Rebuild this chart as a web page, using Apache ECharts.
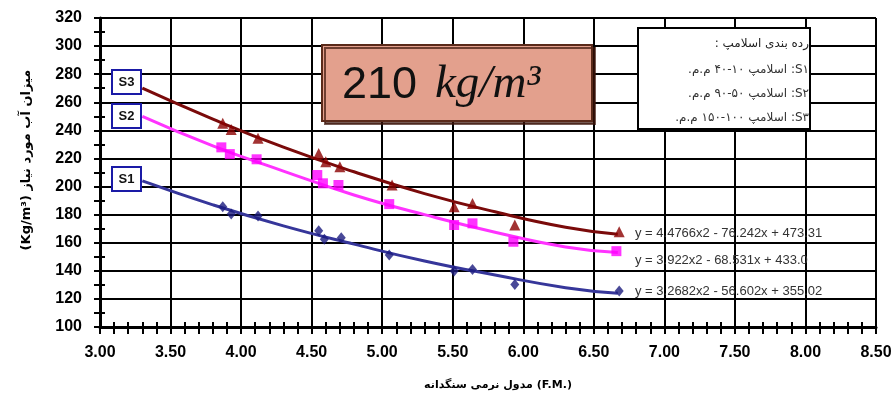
<!DOCTYPE html>
<html>
<head>
<meta charset="utf-8">
<script src="https://cdn.jsdelivr.net/npm/echarts@6/dist/echarts.min.js"></script>
<style>
html,body{margin:0;padding:0;background:#fff;}
#chart{width:895px;height:396px;}
</style>
</head>
<body>
<div id="chart"></div>
<script>
// ---- data ----
const xTicks = [3.0, 3.5, 4.0, 4.5, 5.0, 5.5, 6.0, 6.5, 7.0, 7.5, 8.0, 8.5];
const yTicks = [100, 120, 140, 160, 180, 200, 220, 240, 260, 280, 300, 320];

const s1FM    = [3.87, 3.93, 4.12, 4.55, 4.59, 4.71, 5.05, 5.51, 5.64, 5.94, 6.68];
const s1Water = [185.6, 180.4, 179.0, 168.5, 162.4, 163.5, 151.2, 139.8, 141.0, 130.3, 125.6];
const s2FM    = [3.86, 3.92, 4.11, 4.54, 4.58, 4.69, 5.05, 5.51, 5.64, 5.93, 6.66];
const s2Water = [227.9, 223.1, 219.4, 208.2, 202.3, 201.1, 187.5, 172.6, 173.8, 160.7, 154.0];
const s3FM    = [3.87, 3.93, 4.12, 4.55, 4.60, 4.70, 5.07, 5.51, 5.64, 5.94, 6.68];
const s3Water = [245.0, 240.7, 234.3, 223.6, 217.6, 214.1, 201.1, 185.6, 188.0, 172.6, 167.8];

// trend curves
const trendFM = [3.3, 3.8, 4.3, 4.8, 5.3, 5.8, 6.3, 6.67];
const s1Trend = [204, 187, 172, 159, 147, 137, 128, 124];
const s2Trend = [250, 229, 211, 194, 180, 167.5, 157, 153];
const s3Trend = [270, 248, 228, 210.5, 195, 182, 171, 166];

const equations = [
  'y = 4.4766x2 - 76.242x + 473.31',
  'y = 3.922x2 - 68.531x + 433.0',
  'y = 3.2682x2 - 56.602x + 355.02'
];
const seriesTags = ['S3', 'S2', 'S1'];
const legendTitle = 'رده بندی اسلامپ :';
const legendItems = [
  'S۱: اسلامپ ۱۰\u200F-\u200F۴۰ م.م.',
  'S۲: اسلامپ ۵۰\u200F-\u200F۹۰ م.م.',
  'S۳: اسلامپ ۱۰۰\u200F-\u200F۱۵۰ م.م.'
];
const boxValue = '210 ';
const boxUnit = 'kg/m³';
const xTitle = 'مدول نرمی سنگدانه (F.M.)';
const yTitle = '(Kg/m³) میزان آب مورد نیاز';

const pairs = (xs, ys) => xs.map((x, i) => [x, ys[i]]);
const RLE = '\u202B', PDF = '\u202C';

const chart = echarts.init(document.getElementById('chart'), null, {renderer: 'canvas'});

const baseX = {type: 'value', min: 3, max: 8.5, interval: 0.5};
const baseY = {type: 'value', min: 100, max: 320, interval: 20};

const option = {
  backgroundColor: '#fff',
  animation: false,
  grid: {left: 100, right: 19, top: 18, bottom: 69, containLabel: false},
  xAxis: [
    Object.assign({}, baseX, {
      position: 'bottom',
      axisLine: {show: true, lineStyle: {color: '#000', width: 3}},
      axisTick: {show: true, length: 7, lineStyle: {color: '#000', width: 2}},
      minorTick: {show: true, splitNumber: 5, length: 7, lineStyle: {color: '#000', width: 2}},
      splitLine: {show: true, lineStyle: {color: '#000', width: 2}},
      axisLabel: {
        show: true, margin: 18, color: '#000', fontSize: 16, fontWeight: 'bold',
        fontFamily: 'Liberation Sans, Arial, sans-serif',
        formatter: v => v.toFixed(2)
      }
    }),
    Object.assign({}, baseX, {
      position: 'bottom',
      axisLine: {show: false},
      axisTick: {show: true, inside: true, length: 5, lineStyle: {color: '#000', width: 2}},
      minorTick: {show: true, splitNumber: 5, length: 5, lineStyle: {color: '#000', width: 2}},
      splitLine: {show: false},
      axisLabel: {show: false}
    })
  ],
  yAxis: [
    Object.assign({}, baseY, {
      position: 'left',
      axisLine: {show: true, lineStyle: {color: '#000', width: 3}},
      axisTick: {show: true, length: 6, lineStyle: {color: '#000', width: 2}},
      minorTick: {show: true, splitNumber: 2, length: 6, lineStyle: {color: '#000', width: 2}},
      splitLine: {show: true, lineStyle: {color: '#000', width: 2}},
      axisLabel: {
        show: true, margin: 18, color: '#000', fontSize: 16, fontWeight: 'bold',
        fontFamily: 'Liberation Sans, Arial, sans-serif'
      }
    }),
    Object.assign({}, baseY, {
      position: 'left',
      axisLine: {show: false},
      axisTick: {show: true, inside: true, length: 5, lineStyle: {color: '#000', width: 2}},
      minorTick: {show: true, splitNumber: 2, length: 5, lineStyle: {color: '#000', width: 2}},
      splitLine: {show: false},
      axisLabel: {show: false}
    })
  ],
  series: [
    {type: 'line', data: pairs(trendFM, s1Trend), smooth: true, showSymbol: false, symbol: 'none',
     lineStyle: {color: '#36369A', width: 3}, z: 3},
    {type: 'line', data: pairs(trendFM, s2Trend), smooth: true, showSymbol: false, symbol: 'none',
     lineStyle: {color: '#FF33FF', width: 3}, z: 3},
    {type: 'line', data: pairs(trendFM, s3Trend), smooth: true, showSymbol: false, symbol: 'none',
     lineStyle: {color: '#7A0A0A', width: 3}, z: 3},
    {type: 'scatter', data: pairs(s1FM, s1Water), symbol: 'diamond', symbolSize: [9, 11],
     itemStyle: {color: '#1C1C7E'}, z: 4},
    {type: 'scatter', data: pairs(s2FM, s2Water), symbol: 'rect', symbolSize: 10,
     itemStyle: {color: '#FF00FF'}, z: 4},
    {type: 'scatter', data: pairs(s3FM, s3Water), symbol: 'triangle', symbolSize: 11,
     itemStyle: {color: '#8B0000'}, z: 4}
  ],
  graphic: [
    // axis titles
    {type: 'text', x: 498, y: 385, z: 10,
     style: {text: xTitle, align: 'center', verticalAlign: 'middle', fill: '#000',
             font: 'bold 11px "DejaVu Sans", "Liberation Sans", sans-serif'}},
    {type: 'text', x: 27, y: 160, rotation: Math.PI / 2, z: 10,
     style: {text: yTitle, align: 'center', verticalAlign: 'middle', fill: '#000',
             font: 'bold 13px "DejaVu Sans", "Liberation Sans", sans-serif'}},
    // title box
    {type: 'rect', shape: {x: 322, y: 45, width: 270, height: 76}, z: 20,
     style: {fill: '#E3A08D', stroke: '#5A2A1A', lineWidth: 2,
             shadowColor: 'rgba(60,20,10,0.7)', shadowOffsetX: 3, shadowOffsetY: 3, shadowBlur: 0}},
    {type: 'text', x: 342, y: 86, z: 21,
     style: {text: boxValue, align: 'left', verticalAlign: 'middle', fill: '#111',
             font: '45px "Liberation Sans", Arial, sans-serif'}},
    {type: 'text', x: 435, y: 85, z: 21,
     style: {text: boxUnit, align: 'left', verticalAlign: 'middle', fill: '#111',
             font: 'italic 47px "Liberation Serif", "Times New Roman", serif'}},
    // legend box
    {type: 'rect', shape: {x: 638, y: 28, width: 172, height: 101}, z: 20,
     style: {fill: '#fff', stroke: '#000', lineWidth: 2}},
    {type: 'text', x: 809, y: 44, z: 21,
     style: {text: RLE + legendTitle + PDF, align: 'right', verticalAlign: 'middle', fill: '#222',
             font: '12px "DejaVu Sans", sans-serif'}},
    {type: 'text', x: 809, y: 70, z: 21,
     style: {text: RLE + legendItems[0] + PDF, align: 'right', verticalAlign: 'middle', fill: '#333',
             font: '12px "DejaVu Sans", sans-serif'}},
    {type: 'text', x: 809, y: 94, z: 21,
     style: {text: RLE + legendItems[1] + PDF, align: 'right', verticalAlign: 'middle', fill: '#333',
             font: '12px "DejaVu Sans", sans-serif'}},
    {type: 'text', x: 809, y: 118, z: 21,
     style: {text: RLE + legendItems[2] + PDF, align: 'right', verticalAlign: 'middle', fill: '#333',
             font: '12px "DejaVu Sans", sans-serif'}},
    // equations
    {type: 'text', x: 635, y: 233, z: 2,
     style: {text: equations[0], align: 'left', verticalAlign: 'middle', fill: '#333',
             font: '13px "Liberation Sans", Arial, sans-serif'}},
    {type: 'text', x: 635, y: 260, z: 2,
     style: {text: equations[1], align: 'left', verticalAlign: 'middle', fill: '#333',
             font: '13px "Liberation Sans", Arial, sans-serif'}},
    {type: 'text', x: 635, y: 291, z: 2,
     style: {text: equations[2], align: 'left', verticalAlign: 'middle', fill: '#333',
             font: '13px "Liberation Sans", Arial, sans-serif'}},
    // series tags
    {type: 'rect', shape: {x: 112, y: 70, width: 29, height: 24}, z: 20,
     style: {fill: '#fff', stroke: '#1A1AA6', lineWidth: 2}},
    {type: 'text', x: 126.5, y: 82, z: 21,
     style: {text: seriesTags[0], align: 'center', verticalAlign: 'middle', fill: '#111',
             font: 'bold 13px "Liberation Sans", Arial, sans-serif'}},
    {type: 'rect', shape: {x: 112, y: 104, width: 29, height: 24}, z: 20,
     style: {fill: '#fff', stroke: '#1A1AA6', lineWidth: 2}},
    {type: 'text', x: 126.5, y: 116, z: 21,
     style: {text: seriesTags[1], align: 'center', verticalAlign: 'middle', fill: '#111',
             font: 'bold 13px "Liberation Sans", Arial, sans-serif'}},
    {type: 'rect', shape: {x: 112, y: 167, width: 29, height: 24}, z: 20,
     style: {fill: '#fff', stroke: '#1A1AA6', lineWidth: 2}},
    {type: 'text', x: 126.5, y: 179, z: 21,
     style: {text: seriesTags[2], align: 'center', verticalAlign: 'middle', fill: '#111',
             font: 'bold 13px "Liberation Sans", Arial, sans-serif'}}
  ]
};
option.series.forEach(s => { s.xAxisIndex = 0; s.yAxisIndex = 0; });
chart.setOption(option);
</script>
</body>
</html>
